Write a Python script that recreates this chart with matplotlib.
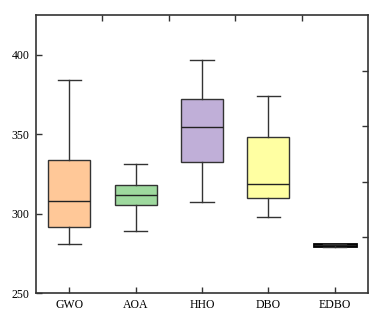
import matplotlib
matplotlib.use("Agg")
import matplotlib.pyplot as plt

categories = ["GWO", "AOA", "HHO", "DBO", "EDBO"]
whislo = [280.8, 288.8, 307.2, 298.0, 279.0]
q1 = [291.6, 305.3, 332.6, 310.0, 279.6]
med = [307.8, 311.4, 354.4, 318.5, 280.1]
q3 = [334.0, 318.2, 372.2, 348.0, 280.6]
whishi = [384.2, 331.4, 396.8, 374.0, 280.9]
colors = ["#FFC898", "#9ED99E", "#C0AFD8", "#FFFFA2", "#A8C8E8"]
yticks = [250, 300, 350, 400]

plt.rcParams["font.family"] = ["Liberation Serif", "DejaVu Serif"]
plt.rcParams["font.size"] = 8.5

fig = plt.figure(figsize=(3.92, 3.18), dpi=100)
ax = fig.add_axes([36/392, 1-293/318, 332/392, 278/318])

stats = []
for i, c in enumerate(categories):
    stats.append(dict(label=c, whislo=whislo[i], q1=q1[i], med=med[i],
                      q3=q3[i], whishi=whishi[i], fliers=[]))

bp = ax.bxp(stats, positions=range(1, len(categories)+1), widths=0.63,
            patch_artist=True, showfliers=False,
            boxprops=dict(linewidth=1.0, edgecolor="#333333"),
            medianprops=dict(color="#222222", linewidth=1.0),
            whiskerprops=dict(color="#333333", linewidth=1.0),
            capprops=dict(color="#333333", linewidth=1.0),
            capwidths=0.35)
for patch, col in zip(bp["boxes"], colors):
    patch.set_facecolor(col)
bp["boxes"][4].set_linewidth(2.0)
bp["boxes"][4].set_edgecolor("black")

ax.set_xlim(0.5, 5.5)
ax.set_ylim(250, 425)
ax.set_yticks(yticks)
ax.set_xticks(range(1, 6))
ax.set_xticklabels(categories)
ax.tick_params(axis="both", direction="in", length=4.5, width=1, colors="#333333",
               labelcolor="black", pad=4.5)
for s in ax.spines.values():
    s.set_linewidth(1.2)
    s.set_color("#333333")

# top ticks between categories
axt = ax.secondary_xaxis("top")
axt.set_xticks([1.5, 2.5, 3.5, 4.5])
axt.set_xticklabels([])
axt.tick_params(direction="in", length=4.5, width=1, colors="#333333")
axt.spines["top"].set_visible(False)

# right ticks
axr = ax.secondary_yaxis("right")
axr.set_yticks([285, 320, 355, 390])
axr.set_yticklabels([])
axr.tick_params(direction="in", length=4.5, width=1, colors="#333333")
axr.spines["right"].set_visible(False)

fig.savefig("out.png", dpi=100)
